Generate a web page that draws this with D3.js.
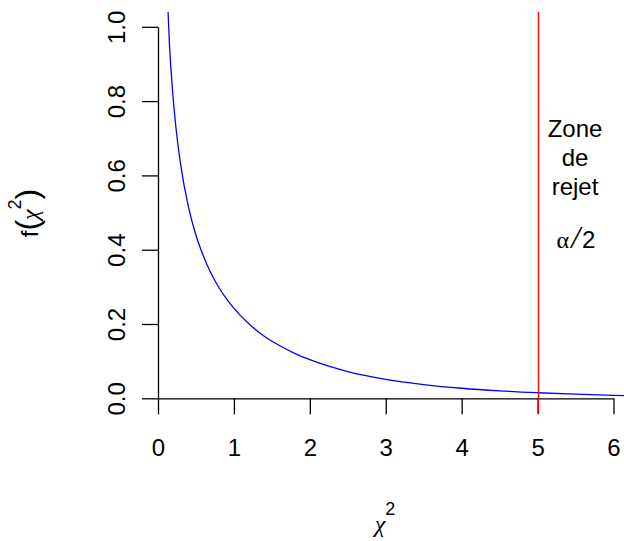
<!DOCTYPE html>
<html>
<head>
<meta charset="utf-8">
<script src="https://cdn.jsdelivr.net/npm/d3@7"></script>
<style>
  html, body { margin: 0; padding: 0; background: #fff; }
  svg { display: block; }
  text { font-family: "Liberation Sans", Arial, sans-serif; fill: #000; }
</style>
</head>
<body>
<script>
// ---- data (chi-square density, 1 df) ----
const curveX = [0.10, 0.15, 0.20, 0.25, 0.30, 0.40, 0.50, 0.60, 0.70, 0.80, 0.90, 1.0, 1.2, 1.4, 1.6, 1.8, 2.0, 2.5, 3.0, 3.5, 4.0, 4.5, 5.0, 5.5, 6.0, 6.5];
const curveY = [1.200, 0.956, 0.807, 0.704, 0.627, 0.516, 0.439, 0.382, 0.336, 0.299, 0.268, 0.242, 0.200, 0.167, 0.142, 0.121, 0.104, 0.072, 0.051, 0.037, 0.027, 0.020, 0.015, 0.011, 0.008, 0.006];
const criticalValue = [5.024];
const xTicks = [0, 1, 2, 3, 4, 5, 6];
const yTicks = [0.0, 0.2, 0.4, 0.6, 0.8, 1.0];
const zoneLines = ["Zone", "de", "rejet"];

const W = 624, H = 541;
const svg = d3.select("body").append("svg").attr("width", W).attr("height", H);

const x = d3.scaleLinear().domain([0, 6]).range([158, 613.5]);
const y = d3.scaleLinear().domain([0, 1]).range([398.3, 26.8]);

// plot region (R adds 4% on each side)
const regX0 = x(-0.24), regX1 = x(6.24), regY0 = y(1.04), regY1 = y(-0.04);

svg.append("clipPath").attr("id", "clip")
  .append("rect").attr("x", regX0).attr("y", regY0)
  .attr("width", regX1 - regX0).attr("height", regY1 - regY0);

const pts = curveX.map((d, i) => [d, curveY[i]]);
const line = d3.line().x(d => x(d[0])).y(d => y(d[1])).curve(d3.curveMonotoneX);

svg.append("path").datum(pts)
  .attr("clip-path", "url(#clip)")
  .attr("d", line)
  .attr("fill", "none").attr("stroke", "#0000ff").attr("stroke-width", 1.3);

// axes
const xAxis = d3.axisBottom(x).tickValues(xTicks).tickSize(16).tickSizeOuter(0).tickPadding(24).tickFormat(d3.format("d"));
const gx = svg.append("g").attr("transform", `translate(0,${y(0)})`).call(xAxis);
gx.selectAll("text").attr("font-size", 24).attr("dy", null).attr("y", 58)
  .style("font-family", "Liberation Sans, Arial, sans-serif");

const yAxis = d3.axisLeft(y).tickValues(yTicks).tickSize(16).tickSizeOuter(0).tickFormat(d3.format(".1f"));
const gy = svg.append("g").attr("transform", `translate(${x(0)},0)`).call(yAxis);
gy.selectAll(".tick text")
  .attr("x", null).attr("dy", null).attr("y", null)
  .attr("text-anchor", "middle")
  .attr("transform", "translate(-33,0) rotate(-90)")
  .attr("font-size", 24)
  .style("font-family", "Liberation Sans, Arial, sans-serif");

svg.selectAll(".domain, .tick line").attr("stroke", "#000").attr("stroke-width", 1.3);

// critical value line
svg.selectAll(".crit").data(criticalValue).enter().append("line")
  .attr("x1", d => Math.round(x(d)) - 0.5).attr("x2", d => Math.round(x(d)) - 0.5)
  .attr("y1", regY0).attr("y2", regY1)
  .attr("stroke", "#ff0000").attr("stroke-width", 1.4);

// Zone de rejet text
svg.selectAll(".zone").data(zoneLines).enter().append("text")
  .attr("x", 575).attr("y", (d, i) => 137 + i * 29)
  .attr("text-anchor", "middle").attr("font-size", 24).text(d => d);

const alpha = svg.append("text").attr("x", 576).attr("y", 248).attr("text-anchor", "middle");
alpha.append("tspan").attr("font-size", 24).style("font-family", "Liberation Serif, serif").text("α");
alpha.append("tspan").attr("font-size", 32).attr("dx", 2).style("font-family", "Liberation Serif, serif").attr("font-style", "italic").text("/");
alpha.append("tspan").attr("font-size", 24).attr("dx", 2).text("2");

// x title
const xt = svg.append("text").attr("x", 385).attr("y", 532).attr("text-anchor", "middle");
xt.append("tspan").attr("font-size", 24).style("font-family", "Liberation Serif, serif").attr("font-style", "italic").text("χ");
xt.append("tspan").attr("font-size", 18).attr("dy", -17).text("2");

// y title
const yt = svg.append("text").attr("text-anchor", "middle")
  .attr("transform", "translate(38,213) rotate(-90)");
yt.append("tspan").attr("font-size", 24).text("f");
yt.append("tspan").attr("font-size", 32).attr("font-weight", "300").text("(");
yt.append("tspan").attr("font-size", 24).style("font-family", "Liberation Serif, serif").attr("font-style", "italic").text("χ");
yt.append("tspan").attr("font-size", 18).attr("dy", -17).text("2");
yt.append("tspan").attr("font-size", 32).attr("dy", 17).text(")");
</script>
</body>
</html>
